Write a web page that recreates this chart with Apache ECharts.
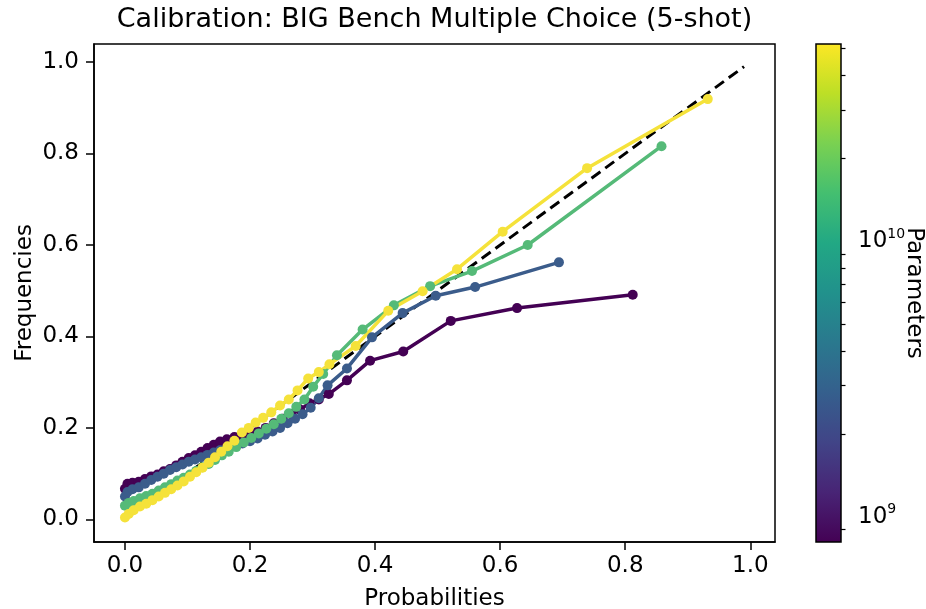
<!DOCTYPE html>
<html>
<head>
<meta charset="utf-8">
<script src="https://cdn.jsdelivr.net/npm/echarts@6.0.0/dist/echarts.min.js"></script>
<style>
  html, body { margin: 0; padding: 0; background: #fff; }
  #chart { width: 926px; height: 609px; }
</style>
</head>
<body>
<div id="chart"></div>
<script>
// tick labels
const xTicks = [0, 0.2, 0.4, 0.6, 0.8, 1.0];
const yTicks = [0, 0.2, 0.4, 0.6, 0.8, 1.0];

// perfect calibration diagonal
const diagX = [0, 0.99];
const diagY = [0, 0.99];

// 810M model (darkest)
const probsA = [0.000, 0.004, 0.012, 0.022, 0.032, 0.042, 0.052, 0.062, 0.072, 0.082, 0.092, 0.102, 0.112, 0.122, 0.132, 0.142, 0.152, 0.163, 0.175, 0.188, 0.200, 0.212, 0.225, 0.238, 0.252, 0.266, 0.280, 0.295, 0.310, 0.326, 0.355, 0.392, 0.445, 0.521, 0.627, 0.812];
const freqsA = [0.067, 0.078, 0.080, 0.082, 0.088, 0.094, 0.098, 0.105, 0.110, 0.118, 0.126, 0.134, 0.140, 0.148, 0.156, 0.163, 0.170, 0.175, 0.180, 0.182, 0.186, 0.192, 0.200, 0.210, 0.220, 0.230, 0.240, 0.254, 0.262, 0.274, 0.304, 0.347, 0.367, 0.434, 0.462, 0.491];

// ~3B model
const probsB = [0.000, 0.004, 0.012, 0.022, 0.032, 0.042, 0.052, 0.062, 0.072, 0.082, 0.092, 0.102, 0.112, 0.122, 0.132, 0.142, 0.152, 0.163, 0.175, 0.188, 0.200, 0.212, 0.224, 0.236, 0.248, 0.260, 0.272, 0.284, 0.297, 0.310, 0.324, 0.355, 0.395, 0.444, 0.497, 0.560, 0.694];
const freqsB = [0.050, 0.060, 0.066, 0.070, 0.078, 0.086, 0.093, 0.100, 0.108, 0.114, 0.120, 0.126, 0.131, 0.136, 0.141, 0.146, 0.151, 0.156, 0.161, 0.166, 0.171, 0.177, 0.185, 0.192, 0.200, 0.210, 0.220, 0.230, 0.244, 0.265, 0.293, 0.330, 0.398, 0.451, 0.489, 0.508, 0.562];

// ~12B model
const probsC = [0.000, 0.006, 0.014, 0.024, 0.034, 0.044, 0.054, 0.064, 0.074, 0.084, 0.094, 0.104, 0.114, 0.124, 0.134, 0.144, 0.155, 0.166, 0.178, 0.190, 0.202, 0.214, 0.226, 0.238, 0.250, 0.262, 0.274, 0.287, 0.301, 0.317, 0.339, 0.380, 0.430, 0.488, 0.555, 0.644, 0.858];
const freqsC = [0.030, 0.036, 0.040, 0.046, 0.051, 0.056, 0.063, 0.070, 0.077, 0.085, 0.091, 0.098, 0.106, 0.114, 0.121, 0.130, 0.140, 0.148, 0.158, 0.168, 0.178, 0.188, 0.198, 0.208, 0.220, 0.232, 0.246, 0.262, 0.290, 0.318, 0.359, 0.415, 0.468, 0.510, 0.543, 0.600, 0.816];

// 52B model (lightest)
const probsD = [0.000, 0.006, 0.014, 0.024, 0.034, 0.044, 0.054, 0.064, 0.074, 0.084, 0.094, 0.104, 0.114, 0.124, 0.134, 0.144, 0.154, 0.164, 0.175, 0.187, 0.198, 0.209, 0.221, 0.234, 0.248, 0.262, 0.276, 0.293, 0.310, 0.327, 0.369, 0.421, 0.476, 0.531, 0.604, 0.739, 0.932];
const freqsD = [0.004, 0.012, 0.020, 0.028, 0.034, 0.042, 0.050, 0.058, 0.066, 0.074, 0.083, 0.093, 0.103, 0.113, 0.124, 0.136, 0.148, 0.160, 0.172, 0.190, 0.200, 0.212, 0.222, 0.234, 0.249, 0.262, 0.282, 0.308, 0.322, 0.339, 0.379, 0.456, 0.499, 0.547, 0.629, 0.768, 0.919];

// colorbar (log scale of parameter count)
const paramMin = 8.1e8;
const paramMax = 5.2e10;
const cbarMajor = [1e9, 1e10];
const cbarMinor = [9e8, 2e9, 3e9, 4e9, 5e9, 6e9, 7e9, 8e9, 9e9, 2e10, 3e10, 4e10, 5e10];

const font = "DejaVu Sans";
const colors = ["#440154", "#3b5c8b", "#55ba78", "#f5e23a"];
const viridis = ["#440154", "#482475", "#414487", "#355f8d", "#2a788e", "#21918c",
                 "#22a884", "#44bf70", "#7ad151", "#bddf26", "#fde725"];

const chart = echarts.init(document.getElementById("chart"));

function pairs(xs, ys) {
  return xs.map((x, i) => [x, ys[i]]);
}

function curve(xs, ys, color) {
  return {
    type: "line",
    data: pairs(xs, ys),
    symbol: "circle",
    symbolSize: 10,
    showAllSymbol: true,
    lineStyle: { color: color, width: 3.5 },
    itemStyle: { color: color },
    silent: true,
  };
}

const lo = Math.log10(paramMin);
const hi = Math.log10(paramMax);

var option = {
  animation: false,
  backgroundColor: "#fff",
  textStyle: { fontFamily: font },
  title: {
    text: "Calibration: BIG Bench Multiple Choice (5-shot)",
    left: 434.5,
    top: 6,
    textAlign: "center",
    padding: 0,
    textStyle: { fontFamily: font, fontSize: 27, fontWeight: "normal", color: "#000" },
  },
  grid: [
    { left: 94, right: 151, top: 44, bottom: 67, outerBoundsMode: "none", containLabel: false,
      show: true, borderColor: "#000", borderWidth: 1.5 },
    { left: 816, width: 25, top: 44, bottom: 67, outerBoundsMode: "none", containLabel: false },
  ],
  xAxis: [
    {
      gridIndex: 0,
      type: "value",
      min: -0.0495,
      max: 1.0395,
      name: "Probabilities",
      nameLocation: "middle",
      nameGap: 46,
      nameTextStyle: { fontFamily: font, fontSize: 23, color: "#000" },
      axisLine: { show: true, onZero: false, lineStyle: { color: "#000", width: 1.5 } },
      axisTick: { show: true, length: 8, customValues: xTicks, lineStyle: { color: "#000", width: 1.5 } },
      axisLabel: { customValues: xTicks, formatter: (v) => v.toFixed(1), fontSize: 23, color: "#000", margin: 13, fontFamily: font },
      splitLine: { show: false },
    },
    { gridIndex: 1, type: "value", min: 0, max: 1, show: false },
  ],
  yAxis: [
    {
      gridIndex: 0,
      type: "value",
      min: -0.0495,
      max: 1.0395,
      name: "Frequencies",
      nameLocation: "middle",
      nameGap: 57,
      nameMoveOverlap: false,
      nameTextStyle: { fontFamily: font, fontSize: 23, color: "#000" },
      axisLine: { show: true, onZero: false, lineStyle: { color: "#000", width: 1.5 } },
      axisTick: { show: true, length: 8, customValues: yTicks, lineStyle: { color: "#000", width: 1.5 } },
      axisLabel: { customValues: yTicks, formatter: (v) => v.toFixed(1), fontSize: 23, color: "#000", margin: 15, fontFamily: font },
      splitLine: { show: false },
    },
    {
      gridIndex: 1,
      type: "value",
      min: lo,
      max: hi,
      position: "right",
      name: "Parameters",
      nameLocation: "middle",
      nameRotate: -90,
      nameGap: 61,
      nameMoveOverlap: false,
      nameTextStyle: { fontFamily: font, fontSize: 23, color: "#000" },
      axisLine: { show: false },
      axisTick: { show: true, length: 8, customValues: cbarMajor.map(Math.log10), lineStyle: { color: "#000", width: 1.5 } },
      axisLabel: {
        customValues: cbarMajor.map(Math.log10),
        margin: 17,
        formatter: (v) => "{b|10}{s|" + Math.round(v) + "}",
        rich: {
          b: { fontFamily: font, fontSize: 23, color: "#000", lineHeight: 28 },
          s: { fontFamily: font, fontSize: 14, color: "#000", verticalAlign: "top", lineHeight: 28 },
        },
      },
      splitLine: { show: false },
    },
    {
      gridIndex: 1,
      type: "value",
      min: lo,
      max: hi,
      position: "right",
      axisLine: { show: false },
      axisTick: { show: true, length: 4.5, customValues: cbarMinor.map(Math.log10), lineStyle: { color: "#000", width: 1.2 } },
      axisLabel: { show: false },
      splitLine: { show: false },
    },
  ],
  series: [
    {
      type: "line",
      data: pairs(diagX, diagY),
      symbol: "none",
      lineStyle: { color: "#000", width: 3, type: [11, 6] },
      silent: true,
    },
    curve(probsA, freqsA, colors[0]),
    curve(probsB, freqsB, colors[1]),
    curve(probsC, freqsC, colors[2]),
    curve(probsD, freqsD, colors[3]),
    {
      type: "custom",
      xAxisIndex: 1,
      yAxisIndex: 1,
      data: [[0, lo, hi]],
      encode: { x: 0, y: [1, 2] },
      silent: true,
      renderItem: function (params, api) {
        const bottom = api.coord([0, api.value(1)]);
        const top = api.coord([1, api.value(2)]);
        return {
          type: "rect",
          shape: { x: bottom[0], y: top[1], width: top[0] - bottom[0], height: bottom[1] - top[1] },
          style: {
            fill: new echarts.graphic.LinearGradient(0, 1, 0, 0,
              viridis.map((c, i) => ({ offset: i / (viridis.length - 1), color: c }))),
            stroke: "#000",
            lineWidth: 1.5,
          },
        };
      },
    },
  ],
};

chart.setOption(option);
</script>
</body>
</html>
